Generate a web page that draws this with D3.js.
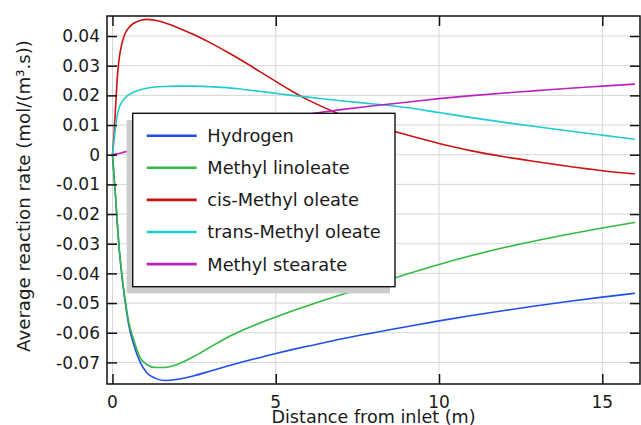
<!DOCTYPE html>
<html>
<head>
<meta charset="utf-8">
<script src="https://cdn.jsdelivr.net/npm/d3@7"></script>
<style>
  html, body { margin: 0; padding: 0; background: #fff; }
  svg { display: block; }
  text { font-family: "DejaVu Sans", sans-serif; fill: #1a1a1a; }
</style>
</head>
<body>
<svg id="chart" width="641" height="425"></svg>
<script>
// ---------------- DATA ----------------
const distance = [0, 0.05, 0.1, 0.15, 0.2, 0.3, 0.4, 0.5, 0.65, 0.85, 1.05, 1.3, 1.6, 2, 2.5, 3, 3.5, 4, 4.5, 5, 5.5, 6, 7, 8, 9, 10, 11, 12, 13, 14, 15, 16];

const hydrogen = [0, -0.0075, -0.0150, -0.0235, -0.0310, -0.0420, -0.0505, -0.0575, -0.0640, -0.0700, -0.0735, -0.0753, -0.0761, -0.0757, -0.0745, -0.0729, -0.0713, -0.0698, -0.0684, -0.0670, -0.0657, -0.0645, -0.0621, -0.0600, -0.0580, -0.0560, -0.0542, -0.0525, -0.0509, -0.0494, -0.0480, -0.0467];

const methylLinoleate = [0, -0.0075, -0.0150, -0.0235, -0.0308, -0.0415, -0.0497, -0.0565, -0.0624, -0.0685, -0.0707, -0.0717, -0.0717, -0.0706, -0.0680, -0.0648, -0.0617, -0.0591, -0.0568, -0.0547, -0.0527, -0.0508, -0.0472, -0.0438, -0.0403, -0.0370, -0.0340, -0.0313, -0.0289, -0.0267, -0.0247, -0.0228];

const cisMethylOleate = [0, 0.0075, 0.0170, 0.0265, 0.0320, 0.0380, 0.0412, 0.0428, 0.0443, 0.0452, 0.0456, 0.0453, 0.0445, 0.0428, 0.0404, 0.0377, 0.0347, 0.0315, 0.0281, 0.0247, 0.0214, 0.0184, 0.0135, 0.0098, 0.0067, 0.0038, 0.0013, -0.0007, -0.0024, -0.0040, -0.0054, -0.0065];

const transMethylOleate = [0, 0.0050, 0.0100, 0.0135, 0.0157, 0.0180, 0.0193, 0.0202, 0.0211, 0.0219, 0.0224, 0.0228, 0.0230, 0.0231, 0.0231, 0.0229, 0.0226, 0.0220, 0.0214, 0.0207, 0.0200, 0.0194, 0.0182, 0.0171, 0.0159, 0.0142, 0.0125, 0.0109, 0.0094, 0.0080, 0.0066, 0.0052];

const methylStearate = [0, 0.0001, 0.0002, 0.0003, 0.0004, 0.0007, 0.0010, 0.0013, 0.0017, 0.0023, 0.0029, 0.0036, 0.0044, 0.0055, 0.0068, 0.0080, 0.0091, 0.0101, 0.0111, 0.0120, 0.0129, 0.0137, 0.0152, 0.0165, 0.0177, 0.0189, 0.0199, 0.0208, 0.0216, 0.0224, 0.0231, 0.0238];

const seriesNames = ["Hydrogen", "Methyl linoleate", "cis-Methyl oleate", "trans-Methyl oleate", "Methyl stearate"];
const seriesValues = [hydrogen, methylLinoleate, cisMethylOleate, transMethylOleate, methylStearate];
const seriesColors = ["#1f4fe6", "#33b944", "#cc1111", "#1fcccc", "#bb22bb"];

const xTicks = [0, 5, 10, 15];
const yTicks = [0.04, 0.03, 0.02, 0.01, 0, -0.01, -0.02, -0.03, -0.04, -0.05, -0.06, -0.07];
const yTickLabels = ["0.04", "0.03", "0.02", "0.01", "0", "-0.01", "-0.02", "-0.03", "-0.04", "-0.05", "-0.06", "-0.07"];

const xTitle = "Distance from inlet (m)";
const yTitle = "Average reaction rate (mol/(m\u00B3.s))";

// ---------------- LAYOUT ----------------
const svg = d3.select("#chart");
const L = 107, R = 640, T = 16, B = 384;

const x = d3.scaleLinear().domain([-0.168, 16.155]).range([L, R]);
const y = d3.scaleLinear().domain([-0.07728, 0.04675]).range([B, T]);

// gridlines
const grid = svg.append("g");
grid.selectAll("line.gx").data(xTicks).join("line")
  .attr("x1", d => x(d)).attr("x2", d => x(d))
  .attr("y1", T).attr("y2", B)
  .attr("stroke", "#d6d6d6").attr("stroke-width", 1);
grid.selectAll("line.gy").data(yTicks).join("line")
  .attr("x1", L).attr("x2", R)
  .attr("y1", d => y(d)).attr("y2", d => y(d))
  .attr("stroke", "#d6d6d6").attr("stroke-width", 1);

// clip
svg.append("clipPath").attr("id", "clip")
  .append("rect").attr("x", L).attr("y", T).attr("width", R - L).attr("height", B - T);

const line = d3.line()
  .x((d, i) => x(distance[i]))
  .y(d => y(d))
  .curve(d3.curveMonotoneX);

const curves = svg.append("g").attr("clip-path", "url(#clip)");
seriesValues.forEach((vals, k) => {
  curves.append("path")
    .attr("d", line(vals))
    .attr("fill", "none")
    .attr("stroke", seriesColors[k])
    .attr("stroke-width", 1.6);
});

// axes (ticks inward on all four sides)
const tickLen = 10;
const axB = d3.axisBottom(x).tickValues(xTicks).tickSize(-tickLen).tickFormat("");
const axT = d3.axisTop(x).tickValues(xTicks).tickSize(-tickLen).tickFormat("");
const axLft = d3.axisLeft(y).tickValues(yTicks).tickSize(-tickLen).tickFormat("");
const axRgt = d3.axisRight(y).tickValues(yTicks).tickSize(-tickLen).tickFormat("");

function styleAxis(g) {
  g.select(".domain").remove();
  g.selectAll(".tick line").attr("stroke", "#111").attr("stroke-width", 1.5);
}
svg.append("g").attr("transform", `translate(0,${B})`).call(axB).call(styleAxis);
svg.append("g").attr("transform", `translate(0,${T})`).call(axT).call(styleAxis);
svg.append("g").attr("transform", `translate(${L},0)`).call(axLft).call(styleAxis);
svg.append("g").attr("transform", `translate(${R},0)`).call(axRgt).call(styleAxis);

// frame
svg.append("rect")
  .attr("x", L).attr("y", T).attr("width", R - L).attr("height", B - T)
  .attr("fill", "none").attr("stroke", "#111").attr("stroke-width", 1.5);

// tick labels
svg.append("g").selectAll("text").data(xTicks).join("text")
  .attr("x", d => x(d)).attr("y", 408)
  .attr("text-anchor", "middle")
  .style("font-size", "17px")
  .text(d => d);
svg.append("g").selectAll("text").data(yTicks).join("text")
  .attr("x", 100).attr("y", d => y(d))
  .attr("dy", "0.36em")
  .attr("text-anchor", "end")
  .style("font-size", "17px")
  .text((d, i) => yTickLabels[i]);

// axis titles
svg.append("text")
  .attr("x", (L + R) / 2).attr("y", 423)
  .attr("text-anchor", "middle")
  .style("font-size", "17.6px")
  .text(xTitle);
svg.append("text")
  .attr("transform", `translate(30,${(T + B) / 2 - 4}) rotate(-90)`)
  .attr("text-anchor", "middle")
  .style("font-size", "18.2px")
  .text(yTitle);

// legend
const lg = svg.append("g");
lg.append("rect")
  .attr("x", 126.7).attr("y", 120).attr("width", 263.3).attr("height", 173.3)
  .attr("fill", "#cbcbcb");
lg.append("rect")
  .attr("x", 132.7).attr("y", 113.3).attr("width", 262.3).attr("height", 173.4)
  .attr("fill", "#fff").attr("stroke", "#111").attr("stroke-width", 1.4);
const rows = lg.selectAll("g.row").data(seriesNames).join("g")
  .attr("transform", (d, i) => `translate(0,${135.7 + i * 32.1})`);
rows.append("line")
  .attr("x1", 146.7).attr("x2", 196.7).attr("y1", 0).attr("y2", 0)
  .attr("stroke", (d, i) => seriesColors[i]).attr("stroke-width", 2.6);
rows.append("text")
  .attr("x", 207.3).attr("y", 0).attr("dy", "0.36em")
  .style("font-size", "17.8px")
  .text(d => d);
</script>
</body>
</html>
